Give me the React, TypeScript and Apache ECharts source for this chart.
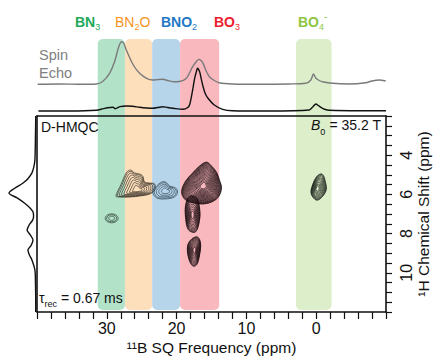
import React, { useEffect, useRef } from 'react';
import * as echarts from 'echarts';

const FONT = '"Liberation Sans", Arial, Helvetica, sans-serif';

// ---- data ----
const bandNames = ['BN3', 'BN2O', 'BNO2', 'BO3', 'BO4-'];
const bandRanges: number[][] = [
  [31.3, 27.4],
  [27.4, 23.5],
  [23.5, 19.5],
  [19.5, 13.9],
  [2.9, -2.2],
];

const xTickLabels = [30, 20, 10, 0];
const yTickLabels = [4, 6, 8, 10];

// 11B spin echo trace [ppm, stacked intensity]
const spinEcho: number[][] = [
  [39.9, 0.412], [36.7, 0.416], [33.9, 0.412], [31.5, 0.416], [30.6, 0.448], [29.6, 0.555],
  [28.9, 0.7], [28.3, 0.896], [27.9, 0.965], [27.6, 0.948], [27.2, 0.857], [26.2, 0.662],
  [25.3, 0.555], [24.3, 0.49], [23.4, 0.468], [22.7, 0.473], [22.0, 0.477], [21.3, 0.461],
  [20.5, 0.445], [19.6, 0.448], [18.6, 0.49], [17.7, 0.64], [17.1, 0.714], [16.8, 0.736],
  [16.5, 0.72], [16.2, 0.684], [15.8, 0.59], [15.3, 0.51], [14.6, 0.461], [13.9, 0.432],
  [12.0, 0.416], [8.1, 0.412], [3.9, 0.416], [1.5, 0.425], [0.76, 0.468], [0.39, 0.545],
  [0.04, 0.49], [-0.43, 0.461], [-0.9, 0.445], [-2.33, 0.425], [-4.7, 0.416], [-7.1, 0.432],
  [-8.0, 0.455], [-9.0, 0.468], [-9.96, 0.455],
];

// D-HMQC 11B projection [ppm, stacked intensity]
const hmqcProjection: number[][] = [
  [39.8, 0.065], [35.3, 0.065], [31.5, 0.074], [30.5, 0.095], [29.9, 0.108], [29.1, 0.113],
  [28.8, 0.095], [28.1, 0.121], [27.2, 0.13], [26.3, 0.126], [25.3, 0.113], [24.3, 0.104],
  [23.4, 0.1], [22.7, 0.11], [22.0, 0.121], [21.3, 0.11], [20.5, 0.1], [19.1, 0.087],
  [18.4, 0.11], [18.1, 0.156], [17.7, 0.338], [17.4, 0.494], [17.1, 0.597], [17.0, 0.62],
  [16.7, 0.575], [16.5, 0.494], [16.2, 0.38], [15.9, 0.292], [15.5, 0.23], [14.6, 0.143],
  [13.4, 0.087], [12.0, 0.069], [6.7, 0.065], [1.0, 0.078], [0.5, 0.117], [0.04, 0.156],
  [-0.3, 0.136], [-0.67, 0.113], [-1.3, 0.084], [-1.86, 0.074], [-6.1, 0.068], [-10.0, 0.069],
];

// 1H projection [intensity, ppm]
const protonProjection: number[][] = [
  [0.01, 2.0], [0.02, 3.0], [0.04, 4.24], [0.08, 4.6], [0.15, 4.9], [0.3, 5.2], [0.48, 5.42],
  [0.8, 5.7], [1.0, 5.93], [0.7, 6.18], [0.42, 6.45], [0.22, 6.69], [0.11, 6.9], [0.09, 7.1],
  [0.12, 7.3], [0.25, 7.55], [0.33, 7.82], [0.22, 8.05], [0.11, 8.33], [0.18, 8.6], [0.3, 8.84],
  [0.24, 9.1], [0.15, 9.35], [0.04, 9.86], [0.02, 10.5], [0.01, 11.5], [0.01, 12.0],
];

// outer contour outlines [11B ppm, 1H ppm]
const bn3Spot: number[][] = [
  [30.23, 7.22], [29.96, 7.06], [29.3, 6.99], [28.64, 7.06], [28.37, 7.22], [28.64, 7.38], [29.3, 7.45], [29.96, 7.38],
];
const bn2oPeak: number[][] = [
  [28.71, 6.08], [28.0, 5.52], [27.14, 4.86], [26.57, 4.76], [26.0, 4.91], [25.29, 4.96], [24.86, 5.06],
  [24.57, 5.37], [23.86, 5.42], [23.14, 5.47], [23.14, 5.78], [23.86, 5.98], [25.29, 6.08], [26.57, 6.13], [28.43, 6.13],
];
const bno2Peak: number[][] = [
  [23.43, 5.88], [22.86, 5.57], [22.14, 5.37], [21.57, 5.37], [21.0, 5.57], [20.14, 5.67], [19.86, 5.88],
  [20.29, 6.13], [21.57, 6.23], [22.86, 6.18],
];
const bo3Main: number[][] = [
  [15.71, 4.35], [15.0, 4.55], [14.29, 4.86], [13.86, 5.27], [13.57, 5.67], [14.0, 6.13], [15.0, 6.39],
  [16.29, 6.49], [17.43, 6.44], [18.71, 6.29], [19.29, 5.88], [18.71, 5.32], [17.71, 4.91], [16.71, 4.55],
];
const bo3Tail: number[][] = [
  [18.14, 6.08], [17.14, 6.18], [16.71, 6.69], [16.71, 7.31], [17.29, 7.92], [18.29, 7.82], [18.71, 7.2], [18.71, 6.54],
];
const bo3Lower: number[][] = [
  [17.86, 8.28], [17.0, 8.17], [16.57, 8.48], [16.71, 9.09], [17.14, 9.6], [17.71, 9.65], [18.29, 9.24], [18.43, 8.63],
];
const bo4Peak: number[][] = [
  [-0.14, 5.06], [-0.86, 4.96], [-1.29, 5.32], [-1.43, 5.78], [-0.71, 6.18], [0.0, 6.29], [0.71, 5.98], [0.57, 5.57],
];
const peakOutlines = [bn3Spot, bn2oPeak, bno2Peak, bo3Main, bo3Tail, bo3Lower, bo4Peak];
const peakMaxima: number[][] = [
  [29.3, 7.22], [25.57, 5.78], [21.57, 5.83], [16.14, 5.57], [17.71, 7.05], [17.43, 8.84], [-0.14, 5.72],
];
const contourLevels = [3, 8, 5, 20, 12, 12, 10];

// ---- styles ----
const bandFill = ['#b2e2c8', '#fddfbc', '#b6d4ea', '#f8b8be', '#ddeeca'];
const bandText = ['#1ea85a', '#f7941d', '#2378c4', '#ed1c2e', '#8dc63f'];
const contourColor = ['#2c3e34', '#3a3126', '#2f4352', '#1a0b0e', '#1a0b0e', '#1a0b0e', '#141a14'];

function bandLabel(i: number) {
  const name = bandNames[i];
  const c = bandText[i];
  const weight = i === 1 ? 'normal' : 'bold';
  let text = '';
  if (name === 'BN3') text = '{a|BN}{s|3}';
  else if (name === 'BN2O') text = '{a|BN}{s|2}{a|O}';
  else if (name === 'BNO2') text = '{a|BNO}{s|2}';
  else if (name === 'BO3') text = '{a|BO}{s|3}';
  else text = '{a|BO}{s|4}{p|-}';
  return {
    text,
    rich: {
      a: { fontSize: 14, fontWeight: weight, fill: c, lineHeight: 20, fontFamily: FONT },
      s: { fontSize: 9, fill: c, lineHeight: 9, verticalAlign: 'bottom', fontFamily: FONT },
      p: { fontSize: 10, fill: c, lineHeight: 10, verticalAlign: 'top', fontFamily: FONT },
    },
    align: 'left',
    verticalAlign: 'middle',
  };
}

const bandLabelX = [75, 115, 161, 214, 298];

function buildOption(): any {
  const axisLineStyle = { color: '#111', width: 1.6 };
  const bandData = bandRanges.map((r, i) => [r[0], r[1], i]);
  const contourData = peakMaxima.map((p, i) => [p[0], p[1], i]);

  const graphic: any[] = bandNames.map((_, i) => ({
    type: 'text',
    x: bandLabelX[i],
    y: 21.5,
    silent: true,
    style: bandLabel(i),
  }));
  graphic.push(
    { type: 'text', x: 39, y: 55, silent: true, style: { text: 'Spin', fontSize: 14.5, fontFamily: FONT, fill: '#808080', align: 'left', verticalAlign: 'middle' } },
    { type: 'text', x: 39, y: 73, silent: true, style: { text: 'Echo', fontSize: 14.5, fontFamily: FONT, fill: '#808080', align: 'left', verticalAlign: 'middle' } },
    { type: 'text', x: 41, y: 127, z: 20, silent: true, style: { text: 'D-HMQC', fontSize: 14, fontFamily: FONT, fill: '#111', align: 'left', verticalAlign: 'middle' } },
    {
      type: 'text', x: 381, y: 125, z: 20, silent: true,
      style: {
        text: '{b|B}{s|0}{a| = 35.2 T}',
        rich: {
          b: { fontSize: 14, fontStyle: 'italic', fill: '#111', lineHeight: 22, fontFamily: FONT },
          s: { fontSize: 9, fill: '#111', lineHeight: 9, verticalAlign: 'bottom', fontFamily: FONT },
          a: { fontSize: 14, fill: '#111', lineHeight: 22, fontFamily: FONT },
        },
        align: 'right', verticalAlign: 'middle',
      },
    },
    {
      type: 'text', x: 39, y: 298, z: 20, silent: true,
      style: {
        text: '{t|τ}{s|rec}{a| = 0.67 ms}',
        rich: {
          t: { fontSize: 14, fill: '#111', lineHeight: 20, fontFamily: FONT },
          s: { fontSize: 9, fill: '#111', lineHeight: 9, verticalAlign: 'bottom', fontFamily: FONT },
          a: { fontSize: 14, fill: '#111', lineHeight: 20, fontFamily: FONT },
        },
        align: 'left', verticalAlign: 'middle',
      },
    }
  );

  return {
    animation: false,
    backgroundColor: '#fff',
    textStyle: { fontFamily: FONT },
    grid: [
      { left: 37, top: 116, width: 349, height: 196, outerBoundsMode: 'none' },
      { left: 37, top: 39, width: 349, height: 77, outerBoundsMode: 'none' },
      { left: 9, top: 116, width: 27, height: 196, outerBoundsMode: 'none' },
    ],
    xAxis: [
      {
        gridIndex: 0, type: 'value', min: -10, max: 40, interval: 2, inverse: true, position: 'bottom', z: 10,
        axisLine: { show: true, onZero: false, lineStyle: axisLineStyle },
        axisTick: { show: true, length: 7, lineStyle: { color: '#111', width: 1.2 } },
        axisLabel: {
          show: true, interval: 0, margin: 8, fontSize: 16, color: '#111', fontFamily: FONT,
          formatter: (v: number) => {
            const r = Math.round(v);
            return Math.abs(v - r) < 1e-6 && xTickLabels.includes(r) ? String(r) : '';
          },
        },
        splitLine: { show: false },
        name: '¹¹B SQ Frequency (ppm)', nameLocation: 'middle', nameGap: 27, nameMoveOverlap: false,
        nameTextStyle: { fontSize: 15.5, color: '#111', fontFamily: FONT },
      },
      {
        gridIndex: 0, type: 'value', min: -10, max: 40, inverse: true, position: 'top', z: 10,
        axisLine: { show: true, onZero: false, lineStyle: axisLineStyle },
        axisTick: { show: false }, axisLabel: { show: false }, splitLine: { show: false },
      },
      { gridIndex: 1, type: 'value', min: -10, max: 40, inverse: true, show: false, splitLine: { show: false } },
      { gridIndex: 2, type: 'value', min: 0, max: 1, inverse: true, show: false, splitLine: { show: false } },
    ],
    yAxis: [
      {
        gridIndex: 0, type: 'value', min: 2, max: 12, interval: 0.5, inverse: true, position: 'right', z: 10,
        axisLine: { show: true, onZero: false, lineStyle: axisLineStyle },
        axisTick: { show: true, length: 6, lineStyle: { color: '#111', width: 1.2 } },
        axisLabel: {
          show: true, interval: 0, rotate: 90, margin: 12, fontSize: 16, color: '#111', fontFamily: FONT,
          formatter: (v: number) => {
            const r = Math.round(v);
            return Math.abs(v - r) < 1e-6 && yTickLabels.includes(r) ? String(r) : '';
          },
        },
        splitLine: { show: false },
        name: '¹H Chemical Shift (ppm)', nameLocation: 'middle', nameGap: 29, nameMoveOverlap: false,
        nameTextStyle: { fontSize: 15.5, color: '#111', fontFamily: FONT },
      },
      {
        gridIndex: 0, type: 'value', min: 2, max: 12, inverse: true, position: 'left', z: 10,
        axisLine: { show: true, onZero: false, lineStyle: axisLineStyle },
        axisTick: { show: false }, axisLabel: { show: false }, splitLine: { show: false },
      },
      { gridIndex: 1, type: 'value', min: 0, max: 1, show: false, splitLine: { show: false } },
      { gridIndex: 2, type: 'value', min: 2, max: 12, inverse: true, show: false, splitLine: { show: false } },
    ],
    series: [
      {
        type: 'custom', name: 'bandsTop', xAxisIndex: 2, yAxisIndex: 2, z: 1, silent: true, clip: false,
        data: bandData,
        renderItem: (_p: any, api: any) => {
          const i = api.value(2) as number;
          const a = api.coord([api.value(0), 1]);
          const b = api.coord([api.value(1), 0]);
          return {
            type: 'rect',
            shape: { x: a[0], y: a[1], width: b[0] - a[0], height: b[1] - a[1], r: [5, 5, 0, 0] },
            style: { fill: bandFill[i] },
          };
        },
      },
      {
        type: 'custom', name: 'bandsMain', xAxisIndex: 0, yAxisIndex: 0, z: 1, silent: true, clip: false,
        data: bandData,
        renderItem: (_p: any, api: any) => {
          const i = api.value(2) as number;
          const a = api.coord([api.value(0), 2]);
          const b = api.coord([api.value(1), 11.9]);
          return {
            type: 'rect',
            shape: { x: a[0], y: a[1], width: b[0] - a[0], height: b[1] - a[1], r: [0, 0, 5, 5] },
            style: { fill: bandFill[i] },
          };
        },
      },
      {
        type: 'line', name: 'Spin Echo', xAxisIndex: 2, yAxisIndex: 2, z: 3, data: spinEcho,
        symbol: 'none', smooth: 0.3, lineStyle: { color: '#7a7a7a', width: 1.4 },
      },
      {
        type: 'line', name: 'D-HMQC projection', xAxisIndex: 2, yAxisIndex: 2, z: 3, data: hmqcProjection,
        symbol: 'none', smooth: 0.3, lineStyle: { color: '#111', width: 1.4 },
      },
      {
        type: 'custom', name: 'contours', xAxisIndex: 0, yAxisIndex: 0, z: 3, silent: true,
        data: contourData,
        renderItem: (_p: any, api: any) => {
          const idx = api.value(2) as number;
          const outline = peakOutlines[idx];
          const fx = peakMaxima[idx][0];
          const fy = peakMaxima[idx][1];
          const n = contourLevels[idx];
          const children: any[] = [];
          for (let k = 0; k < n; k++) {
            const s = 1 - 0.9 * Math.pow(k / n, 1.3);
            const pts = outline.map((p) => api.coord([fx + s * (p[0] - fx), fy + s * (p[1] - fy)]));
            children.push({
              type: 'polygon',
              shape: { points: pts, smooth: 0.35 },
              style: { fill: 'none', stroke: contourColor[idx], lineWidth: 0.7 },
            });
          }
          return { type: 'group', children };
        },
      },
      {
        type: 'line', name: '1H projection', xAxisIndex: 3, yAxisIndex: 3, z: 3, data: protonProjection,
        symbol: 'none', smooth: 0.3, lineStyle: { color: '#111', width: 1.4 },
      },
    ],
    graphic,
  };
}

export default function App() {
  const ref = useRef<HTMLDivElement>(null);
  useEffect(() => {
    document.body.style.margin = '0';
    const chart = echarts.init(ref.current!, null, { renderer: 'svg' });
    chart.setOption(buildOption());
    return () => chart.dispose();
  }, []);
  return <div ref={ref} style={{ width: 435, height: 359 }} />;
}
